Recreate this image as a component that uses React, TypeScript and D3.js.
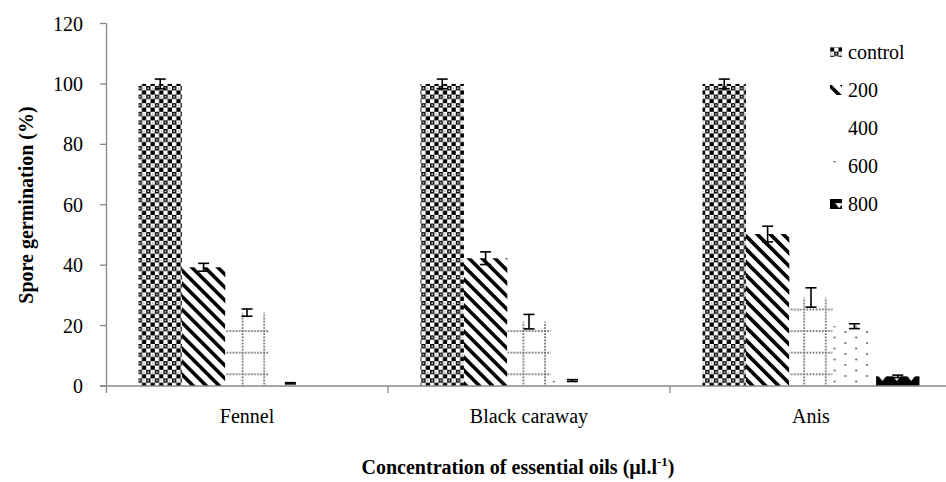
import * as d3 from 'd3'

const categories = ['Fennel', 'Black caraway', 'Anis']
const series = ['control', '200', '400', '600', '800']

// mean spore germination (%) per series, one value per oil
const controlVals = [100, 100, 100]
const c200Vals = [39.3, 42.3, 50.3]
const c400Vals = [24.3, 21.3, 29.3]
const c600Vals = [0.9, 1.8, 19.8]
const c800Vals = [0, 0, 3.2]

// standard error
const controlErr = [1.6, 1.6, 1.6]
const c200Err = [1.3, 2.1, 2.6]
const c400Err = [1.2, 2.4, 3.2]
const c600Err = [0.2, 0.3, 0.8]
const c800Err = [0, 0, 0.4]

const yTicks = [0, 20, 40, 60, 80, 100, 120]

const values = [controlVals, c200Vals, c400Vals, c600Vals, c800Vals]
const errors = [controlErr, c200Err, c400Err, c600Err, c800Err]

const W = 946
const H = 482
const FONT = 'Liberation Serif'
const AXIS = '#878787'

function Label(props: any) {
  const { children, ...rest } = props
  return (
    <text fill="#000" fontSize={20} style={{ fontFamily: FONT }} {...rest}>
      {children}
    </text>
  )
}

export default function App() {
  const x = d3.scaleBand<string>().domain(categories).range([106, 952])
  const bw = x.bandwidth()
  // Excel-like 150% gap width between groups
  const gap = (1.5 / 6.5) * bw
  const xs = d3.scaleBand<string>().domain(series).range([gap / 2, bw - gap / 2])
  const y = d3.scaleLinear().domain([0, 120]).range([386, 23.5])

  const fills = ['url(#pCtrl)', 'url(#p200)', 'url(#p400)', 'url(#p600)', 'url(#p800)']

  // dotted line helpers for the 400 grid pattern
  const dots400: [number, number][] = []
  for (let i = 0; i < 7; i++) {
    dots400.push([1 + i * 3.1, 0])
    dots400.push([1, i * 3.1])
  }

  return (
    <svg width={W} height={H} style={{ position: 'absolute', left: 0, top: 0, background: '#fff' }}>
      <defs>
        <pattern id="pCtrl" patternUnits="userSpaceOnUse" width={8.6} height={8.6}>
          <rect width={8.6} height={8.6} fill="#fff" />
          <rect x={0} y={0} width={4.3} height={4.3} fill="#000" />
          <rect x={4.3} y={4.3} width={4.3} height={4.3} fill="#000" />
          <rect x={1.4} y={1.4} width={1.5} height={1.5} fill="#fff" />
          <rect x={5.8} y={1.5} width={1.2} height={1.2} fill="#888" />
        </pattern>
        <pattern
          id="p200"
          patternUnits="userSpaceOnUse"
          width={9.2}
          height={9.2}
          patternTransform="rotate(-45)"
        >
          <rect width={9.2} height={9.2} fill="#fff" />
          <rect x={0} y={0} width={3.6} height={9.2} fill="#000" />
        </pattern>
        <pattern id="p400" patternUnits="userSpaceOnUse" width={21.6} height={21.6} x={4} y={374.3 % 21.6 - 1}>
          <rect width={21.6} height={21.6} fill="#fff" />
          {dots400.map(([dx, dy], i) => (
            <rect key={i} x={dx - 0.8} y={dy + 0.2} width={1.6} height={1.6} fill="#555" />
          ))}
        </pattern>
        <pattern id="p600" patternUnits="userSpaceOnUse" width={21.6} height={11}>
          <rect width={21.6} height={11} fill="#fff" />
          <circle cx={3} cy={2} r={1.1} fill="#666" />
          <circle cx={13.8} cy={7.5} r={1.1} fill="#666" />
        </pattern>
        <pattern id="p800" patternUnits="userSpaceOnUse" width={14.4} height={14.4} x={4} y={375}>
          <rect width={14.4} height={14.4} fill="#000" />
          <path d="M0,1 L4,1 L0,6 Z" fill="#fff" />
          <path d="M14.4,1 L10.4,1 L14.4,6 Z" fill="#fff" />
        </pattern>
      </defs>

      {/* bars */}
      {series.map((s, si) =>
        categories.map((c, ci) => {
          const v = values[si][ci]
          const x0 = (x(c) as number) + (xs(s) as number)
          return (
            <rect
              key={s + c}
              x={x0}
              y={y(v)}
              width={xs.bandwidth()}
              height={y(0) - y(v)}
              fill={fills[si]}
            />
          )
        })
      )}

      {/* error bars */}
      {series.map((s, si) =>
        categories.map((c, ci) => {
          const v = values[si][ci]
          const e = errors[si][ci]
          if (v === 0) return null
          const cx = (x(c) as number) + (xs(s) as number) + xs.bandwidth() / 2
          const top = y(v + e)
          const bot = y(v - e)
          return (
            <g key={'e' + s + c} stroke="#000" strokeWidth={1.6}>
              <line x1={cx} x2={cx} y1={top} y2={bot} />
              <line x1={cx - 5.5} x2={cx + 5.5} y1={top} y2={top} />
              <line x1={cx - 5.5} x2={cx + 5.5} y1={bot} y2={bot} />
            </g>
          )
        })
      )}

      {/* y axis */}
      <line x1={106.5} x2={106.5} y1={y(120)} y2={y(0) + 7} stroke={AXIS} strokeWidth={1.3} />
      {yTicks.map(t => (
        <g key={t}>
          <line x1={100} x2={106.5} y1={y(t)} y2={y(t)} stroke={AXIS} strokeWidth={1.3} />
          <Label x={83} y={y(t)} dy="0.35em" textAnchor="end">
            {t}
          </Label>
        </g>
      ))}

      {/* x axis */}
      <line x1={100} x2={W} y1={y(0)} y2={y(0)} stroke={AXIS} strokeWidth={1.3} />
      {categories.slice(1).map(c => (
        <line
          key={c}
          x1={x(c) as number}
          x2={x(c) as number}
          y1={y(0)}
          y2={y(0) + 7}
          stroke={AXIS}
          strokeWidth={1.3}
        />
      ))}
      {categories.map(c => (
        <Label key={c} x={(x(c) as number) + bw / 2} y={423} textAnchor="middle">
          {c}
        </Label>
      ))}

      {/* axis titles */}
      <Label transform="translate(33,205) rotate(-90)" textAnchor="middle" fontWeight="bold">
        Spore germination (%)
      </Label>
      <Label x={518} y={474} textAnchor="middle" fontWeight="bold">
        Concentration of essential oils (µl.l
        <tspan fontSize={13} dy={-8}>-1</tspan>
        <tspan dy={8}>)</tspan>
      </Label>

      {/* legend */}
      {series.map((s, i) => {
        const cy = 52 + i * 38
        return (
          <g key={'l' + s}>
            <rect x={830} y={cy - 5} width={12} height={10} fill={fills[i]} />
            <Label x={848} y={cy} dy="0.35em">
              {s}
            </Label>
          </g>
        )
      })}
    </svg>
  )
}
